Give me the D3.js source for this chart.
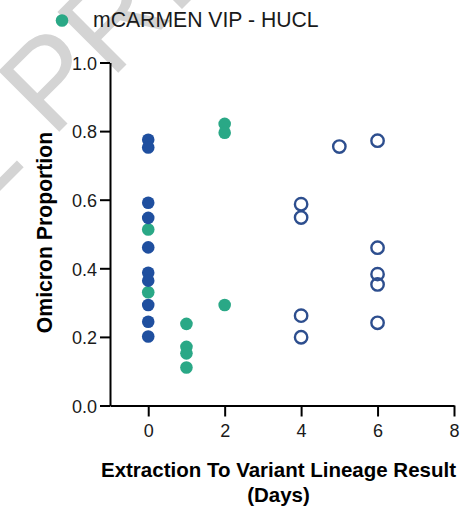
<!DOCTYPE html>
<html>
<head>
<meta charset="utf-8">
<script src="https://cdn.jsdelivr.net/npm/d3@7"></script>
<style>
  body { margin: 0; background: #fff; }
  svg { display: block; font-family: "Liberation Sans", Arial, sans-serif; }
</style>
</head>
<body>
<div id="vis"></div>
<script>
// data
const blueDays = [0, 0, 0, 0, 0, 0, 0, 0, 0, 0];
const blueVals = [0.775, 0.752, 0.591, 0.547, 0.461, 0.387, 0.364, 0.293, 0.244, 0.201];

const greenDays = [0, 0, 1, 1, 1, 1, 2, 2, 2];
const greenVals = [0.513, 0.330, 0.238, 0.171, 0.152, 0.111, 0.821, 0.795, 0.293];

const openDays = [4, 4, 4, 4, 5, 6, 6, 6, 6, 6];
const openVals = [0.587, 0.548, 0.262, 0.199, 0.755, 0.772, 0.460, 0.383, 0.353, 0.241];

const xTicks = [0, 2, 4, 6, 8];
const yTicks = [0, 0.2, 0.4, 0.6, 0.8, 1.0];
const legendLabel = "mCARMEN VIP - HUCL";

const FRAME_WIDTH = 472;
const FRAME_HEIGHT = 512;
const MARGINS = {left: 110, right: 18, top: 62.5, bottom: 106.5};

const BLUE = "#1f4f9f";
const GREEN = "#2aa886";
const OPEN = "#2d4e8e";

const FRAME = d3.select("#vis")
  .append("svg")
    .attr("width", FRAME_WIDTH)
    .attr("height", FRAME_HEIGHT);

// watermark (runs off the top-left corner, like in the figure)
FRAME.append("text")
  .attr("transform", "translate(52,139) rotate(-45)")
  .attr("x", -118)
  .attr("font-size", 125)
  .attr("fill", "#d4d4d4")
  .text("E PREPRINT");

const X_SCALE = d3.scaleLinear()
  .domain([-1, 8])
  .range([MARGINS.left, FRAME_WIDTH - MARGINS.right]);

const Y_SCALE = d3.scaleLinear()
  .domain([0, 1])
  .range([FRAME_HEIGHT - MARGINS.bottom, MARGINS.top]);

// x axis
const xAxis = FRAME.append("g")
  .attr("transform", "translate(0," + Y_SCALE(0) + ")")
  .call(d3.axisBottom(X_SCALE).tickValues(xTicks).tickSize(11).tickSizeOuter(0).tickPadding(8));

// y axis
const yAxis = FRAME.append("g")
  .attr("transform", "translate(" + MARGINS.left + ",0)")
  .call(d3.axisLeft(Y_SCALE).tickValues(yTicks).tickFormat(d3.format(".1f")).tickSize(10).tickSizeOuter(0).tickPadding(3));

[xAxis, yAxis].forEach((g) => {
  g.attr("font-family", null).attr("font-size", 18);
  g.select(".domain").attr("stroke", "#000").attr("stroke-width", 2);
  g.selectAll(".tick line").attr("stroke", "#000").attr("stroke-width", 2);
  g.selectAll(".tick text").attr("fill", "#1a1a1a");
});
yAxis.selectAll(".tick text").attr("dy", "0.38em");

// points
FRAME.selectAll(".green")
  .data(greenVals)
  .enter()
  .append("circle")
    .attr("class", "green")
    .attr("cx", (d, i) => X_SCALE(greenDays[i]))
    .attr("cy", (d) => Y_SCALE(d))
    .attr("r", 6.3)
    .attr("fill", GREEN);

FRAME.selectAll(".blue")
  .data(blueVals)
  .enter()
  .append("circle")
    .attr("class", "blue")
    .attr("cx", (d, i) => X_SCALE(blueDays[i]))
    .attr("cy", (d) => Y_SCALE(d))
    .attr("r", 6.3)
    .attr("fill", BLUE);

FRAME.selectAll(".open")
  .data(openVals)
  .enter()
  .append("circle")
    .attr("class", "open")
    .attr("cx", (d, i) => X_SCALE(openDays[i]))
    .attr("cy", (d) => Y_SCALE(d))
    .attr("r", 6.2)
    .attr("fill", "none")
    .attr("stroke", OPEN)
    .attr("stroke-width", 2.4);

// legend
FRAME.append("circle")
  .attr("cx", 62).attr("cy", 20.5).attr("r", 6.3)
  .attr("fill", GREEN);
FRAME.append("text")
  .attr("x", 93).attr("y", 27.3)
  .attr("font-size", 21.2)
  .attr("fill", "#1a1a1a")
  .text(legendLabel);

// axis titles
FRAME.append("text")
  .attr("transform", "translate(52,232.5) rotate(-90)")
  .attr("text-anchor", "middle")
  .attr("font-size", 21.2)
  .attr("font-weight", "bold")
  .text("Omicron Proportion");

FRAME.append("text")
  .attr("x", 278.5).attr("y", 476.7)
  .attr("text-anchor", "middle")
  .attr("font-size", 20.5)
  .attr("font-weight", "bold")
  .text("Extraction To Variant Lineage Result");

FRAME.append("text")
  .attr("x", 278.5).attr("y", 502)
  .attr("text-anchor", "middle")
  .attr("font-size", 20.5)
  .attr("font-weight", "bold")
  .text("(Days)");
</script>
</body>
</html>
